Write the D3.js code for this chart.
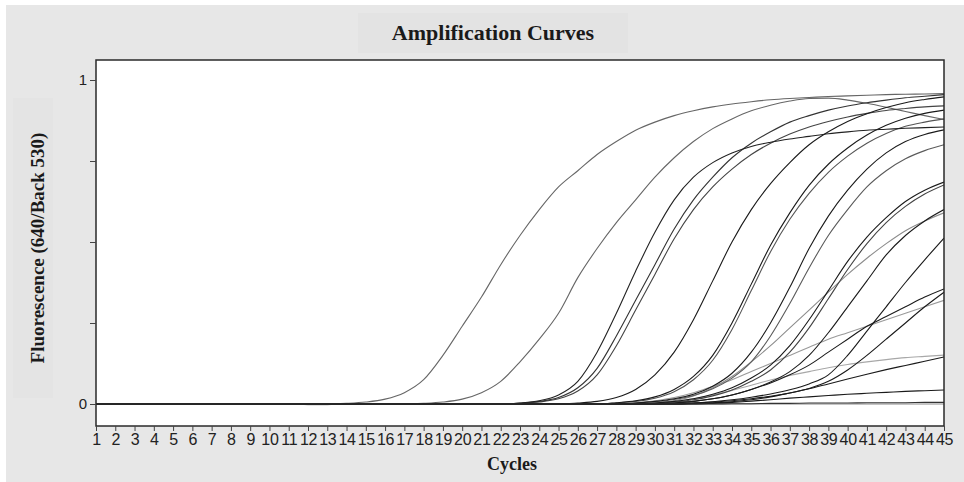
<!DOCTYPE html>
<html>
<head>
<meta charset="utf-8">
<script src="https://cdn.jsdelivr.net/npm/d3@7"></script>
<style>
  html, body { margin: 0; padding: 0; background: #fff; }
  svg { display: block; }
</style>
</head>
<body>
<svg id="chart" width="964" height="482"></svg>
<script>
// Amplification curves (fluorescence 640/Back 530 per cycle)

const cycles = [1,2,3,4,5,6,7,8,9,10,11,12,13,14,15,16,17,18,19,20,21,22,23,24,25,26,27,28,29,30,
                31,32,33,34,35,36,37,38,39,40,41,42,43,44,45];

// values, one per cycle
const curveA  = [0,0,0,0,0,0,0,0,0,0,0,0,0,0.002,0.006,0.015,0.035,0.075,0.15,0.24,0.33,0.43,0.52,0.6,0.67,0.72,0.77,0.81,0.845,0.87,0.89,0.905,0.917,0.926,0.933,0.939,0.943,0.946,0.949,0.951,0.953,0.955,0.956,0.957,0.958];
const curveB  = [0,0,0,0,0,0,0,0,0,0,0,0,0,0,0,0,0,0.002,0.006,0.015,0.035,0.07,0.13,0.2,0.28,0.39,0.48,0.56,0.63,0.7,0.76,0.81,0.85,0.88,0.905,0.922,0.935,0.943,0.944,0.938,0.928,0.916,0.903,0.89,0.878];
const curveC1 = [0,0,0,0,0,0,0,0,0,0,0,0,0,0,0,0,0,0,0,0,0,0,0.003,0.01,0.028,0.07,0.16,0.28,0.41,0.53,0.63,0.7,0.745,0.775,0.795,0.808,0.818,0.826,0.834,0.84,0.845,0.848,0.851,0.853,0.855];
const curveC2 = [0,0,0,0,0,0,0,0,0,0,0,0,0,0,0,0,0,0,0,0,0,0,0.002,0.008,0.02,0.05,0.11,0.21,0.32,0.43,0.54,0.63,0.7,0.76,0.805,0.84,0.87,0.89,0.907,0.92,0.93,0.938,0.945,0.95,0.955];
const curveC3 = [0,0,0,0,0,0,0,0,0,0,0,0,0,0,0,0,0,0,0,0,0,0,0.002,0.006,0.016,0.04,0.09,0.18,0.29,0.4,0.51,0.6,0.67,0.725,0.77,0.805,0.833,0.855,0.872,0.886,0.897,0.906,0.912,0.917,0.92];
const curveD1 = [0,0,0,0,0,0,0,0,0,0,0,0,0,0,0,0,0,0,0,0,0,0,0,0,0,0.003,0.008,0.02,0.045,0.09,0.16,0.26,0.38,0.5,0.6,0.68,0.745,0.8,0.84,0.872,0.896,0.915,0.93,0.94,0.948];
const curveD2 = [0,0,0,0,0,0,0,0,0,0,0,0,0,0,0,0,0,0,0,0,0,0,0,0,0,0,0,0.004,0.01,0.022,0.045,0.085,0.15,0.25,0.37,0.49,0.59,0.675,0.74,0.79,0.83,0.86,0.882,0.897,0.907];
const curveD3 = [0,0,0,0,0,0,0,0,0,0,0,0,0,0,0,0,0,0,0,0,0,0,0,0,0,0,0,0.003,0.008,0.018,0.038,0.075,0.135,0.23,0.35,0.47,0.57,0.65,0.715,0.765,0.805,0.835,0.857,0.87,0.88];
const curveE1 = [0,0,0,0,0,0,0,0,0,0,0,0,0,0,0,0,0,0,0,0,0,0,0,0,0,0,0,0,0.003,0.008,0.016,0.03,0.055,0.095,0.16,0.25,0.36,0.48,0.58,0.66,0.725,0.775,0.81,0.832,0.846];
const curveE2 = [0,0,0,0,0,0,0,0,0,0,0,0,0,0,0,0,0,0,0,0,0,0,0,0,0,0,0,0,0.003,0.007,0.014,0.026,0.047,0.08,0.13,0.21,0.31,0.42,0.52,0.6,0.67,0.72,0.757,0.782,0.8];
const curveF1 = [0,0,0,0,0,0,0,0,0,0,0,0,0,0,0,0,0,0,0,0,0,0,0,0,0,0,0,0,0,0.003,0.008,0.016,0.03,0.05,0.08,0.12,0.18,0.26,0.35,0.44,0.515,0.575,0.625,0.66,0.685];
const curveF2 = [0,0,0,0,0,0,0,0,0,0,0,0,0,0,0,0,0,0,0,0,0,0,0,0,0,0,0,0,0,0.002,0.006,0.013,0.025,0.043,0.07,0.105,0.16,0.235,0.325,0.415,0.495,0.56,0.61,0.648,0.676];
const curveG1 = [0,0,0,0,0,0,0,0,0,0,0,0,0,0,0,0,0,0,0,0,0,0,0,0,0,0,0,0,0,0,0.003,0.008,0.016,0.028,0.045,0.068,0.1,0.15,0.22,0.3,0.38,0.46,0.52,0.565,0.6];
const curveG2 = [0,0,0,0,0,0,0,0,0,0,0,0,0,0,0,0,0,0,0,0,0,0,0,0,0,0,0,0,0,0.003,0.01,0.025,0.05,0.085,0.13,0.18,0.235,0.29,0.345,0.4,0.45,0.495,0.535,0.565,0.59];
const curveH  = [0,0,0,0,0,0,0,0,0,0,0,0,0,0,0,0,0,0,0,0,0,0,0,0,0,0,0,0,0,0,0,0.003,0.007,0.013,0.021,0.031,0.044,0.062,0.09,0.15,0.225,0.3,0.375,0.445,0.512];
const curveI1 = [0,0,0,0,0,0,0,0,0,0,0,0,0,0,0,0,0,0,0,0,0,0,0,0,0,0,0,0,0,0,0.003,0.008,0.016,0.028,0.045,0.065,0.09,0.12,0.16,0.2,0.24,0.27,0.3,0.33,0.355];
const curveI2 = [0,0,0,0,0,0,0,0,0,0,0,0,0,0,0,0,0,0,0,0,0,0,0,0,0,0,0,0,0.003,0.01,0.02,0.035,0.055,0.075,0.1,0.125,0.15,0.175,0.2,0.22,0.24,0.26,0.28,0.3,0.32];
const curveI3 = [0,0,0,0,0,0,0,0,0,0,0,0,0,0,0,0,0,0,0,0,0,0,0,0,0,0,0,0,0,0,0,0.003,0.006,0.01,0.016,0.024,0.034,0.048,0.07,0.105,0.15,0.2,0.25,0.3,0.345];
const curveK1 = [0,0,0,0,0,0,0,0,0,0,0,0,0,0,0,0,0,0,0,0,0,0,0,0,0,0,0,0,0,0.003,0.008,0.016,0.028,0.042,0.058,0.074,0.088,0.1,0.112,0.122,0.13,0.137,0.143,0.147,0.151];
const curveK2 = [0,0,0,0,0,0,0,0,0,0,0,0,0,0,0,0,0,0,0,0,0,0,0,0,0,0,0,0,0,0,0,0.002,0.004,0.007,0.013,0.022,0.034,0.047,0.062,0.077,0.092,0.106,0.119,0.132,0.145];
const curveL  = [0,0,0,0,0,0,0,0,0,0,0,0,0,0,0,0,0,0,0,0,0,0,0,0,0,0,0,0,0,0,0,0,0.002,0.005,0.009,0.013,0.018,0.022,0.026,0.03,0.033,0.036,0.039,0.041,0.043];
const curveZ1 = [0,0,0,0,0,0,0,0,0,0,0,-0.002,-0.002,0,0,0,0,0,0,0,0,0,0,0,0,0,0,0,0,0,0,0,0,0,0,0,0,0,0,0,0,0,0,0,0];
const curveZ2 = [0,0,0,0,0,0,0,0,0,0,0,0,0,0,0,0,0,0,0,0,0,0,0,0,0,0,0,0,0,0,0,0,0,0.001,0.001,0.002,0.002,0.003,0.003,0.003,0.004,0.004,0.004,0.005,0.005];

const yTickValues = [0, 0.25, 0.5, 0.75, 1];
const yTickLabels = {0: "0", 1: "1"};

// line tone per curve (grey ones are drawn first)
const series = [
  {id: "Z1", values: curveZ1, tone: "#8a8a8a"},
  {id: "K1", values: curveK1, tone: "#a8a8a8"},
  {id: "I2", values: curveI2, tone: "#9a9a9a"},
  {id: "G2", values: curveG2, tone: "#8c8c8c"},
  {id: "A",  values: curveA,  tone: "#666"},
  {id: "B",  values: curveB,  tone: "#666"},
  {id: "E2", values: curveE2, tone: "#5a5a5a"},
  {id: "D3", values: curveD3, tone: "#555"},
  {id: "F2", values: curveF2, tone: "#444"},
  {id: "C3", values: curveC3, tone: "#444"},
  {id: "C2", values: curveC2, tone: "#333"},
  {id: "C1", values: curveC1, tone: "#222"},
  {id: "D1", values: curveD1, tone: "#1a1a1a"},
  {id: "D2", values: curveD2, tone: "#1a1a1a"},
  {id: "E1", values: curveE1, tone: "#1a1a1a"},
  {id: "F1", values: curveF1, tone: "#1a1a1a"},
  {id: "G1", values: curveG1, tone: "#1a1a1a"},
  {id: "H",  values: curveH,  tone: "#1a1a1a"},
  {id: "I1", values: curveI1, tone: "#1a1a1a"},
  {id: "I3", values: curveI3, tone: "#1a1a1a"},
  {id: "K2", values: curveK2, tone: "#1a1a1a"},
  {id: "L",  values: curveL,  tone: "#1a1a1a"},
  {id: "Z2", values: curveZ2, tone: "#333"}
];

const W = 964, H = 482;
const plot = {left: 96, right: 944, top: 60, bottom: 426};

const svg = d3.select("#chart");

// page background
svg.append("rect").attr("width", W).attr("height", H).attr("fill", "#fff");
svg.append("rect").attr("x", 6).attr("y", 5).attr("width", W - 6).attr("height", H - 5).attr("fill", "#e7e7e7");
// faint boxes behind the titles
svg.append("rect").attr("x", 358).attr("y", 13).attr("width", 270).attr("height", 40).attr("fill", "#e3e3e3");
svg.append("rect").attr("x", 13).attr("y", 98).attr("width", 40).attr("height", 300).attr("fill", "#e4e4e4");

const x = d3.scaleLinear().domain([1, 45]).range([plot.left, plot.right]);
const y = d3.scaleLinear().domain([0, 1]).range([404, 80]);

// plot area
svg.append("rect")
  .attr("x", plot.left).attr("y", plot.top)
  .attr("width", plot.right - plot.left).attr("height", plot.bottom - plot.top)
  .attr("fill", "#fff");

svg.append("clipPath").attr("id", "clip")
  .append("rect")
  .attr("x", plot.left).attr("y", plot.top)
  .attr("width", plot.right - plot.left).attr("height", plot.bottom - plot.top);

const line = d3.line()
  .x((d, i) => x(cycles[i]))
  .y(d => y(d))
  .curve(d3.curveMonotoneX);

svg.append("g")
  .attr("clip-path", "url(#clip)")
  .attr("fill", "none")
  .attr("stroke-width", 1.1)
  .selectAll("path")
  .data(series)
  .join("path")
  .attr("stroke", d => d.tone)
  .attr("d", d => line(d.values));

// frame
svg.append("rect")
  .attr("x", plot.left).attr("y", plot.top)
  .attr("width", plot.right - plot.left).attr("height", plot.bottom - plot.top)
  .attr("fill", "none").attr("stroke", "#2a2a2a").attr("stroke-width", 1.5);

// x axis
const xAxis = d3.axisBottom(x).tickValues(cycles).tickSize(5).tickPadding(3).tickFormat(d3.format("d"));
const gx = svg.append("g").attr("transform", `translate(0,${plot.bottom})`).call(xAxis);
gx.select(".domain").remove();
gx.selectAll(".tick line").attr("stroke", "#444");
gx.selectAll(".tick text")
  .attr("fill", "#222")
  .style("font-family", "'Liberation Sans', Arial, sans-serif")
  .style("font-size", "16px")
  .style("letter-spacing", "-0.3px");

// y axis
const yAxis = d3.axisLeft(y).tickValues(yTickValues).tickSize(6).tickPadding(3)
  .tickFormat(d => yTickLabels[d] || "");
const gy = svg.append("g").attr("transform", `translate(${plot.left},0)`).call(yAxis);
gy.select(".domain").remove();
gy.selectAll(".tick line").attr("stroke", "#444");
gy.selectAll(".tick text")
  .attr("fill", "#222")
  .style("font-family", "'Liberation Sans', Arial, sans-serif")
  .style("font-size", "15px");

// titles
const serif = "'Liberation Serif', 'DejaVu Serif', serif";
svg.append("text")
  .attr("x", 493).attr("y", 40)
  .attr("text-anchor", "middle")
  .style("font-family", serif).style("font-weight", "bold").style("font-size", "22px")
  .attr("fill", "#1a1a1a")
  .text("Amplification Curves");

svg.append("text")
  .attr("transform", "translate(44,248) rotate(-90)")
  .attr("text-anchor", "middle")
  .style("font-family", serif).style("font-weight", "bold").style("font-size", "19px")
  .attr("fill", "#1a1a1a")
  .text("Fluorescence (640/Back 530)");

svg.append("text")
  .attr("x", 512).attr("y", 470)
  .attr("text-anchor", "middle")
  .style("font-family", serif).style("font-weight", "bold").style("font-size", "18px")
  .attr("fill", "#1a1a1a")
  .text("Cycles");
</script>
</body>
</html>
